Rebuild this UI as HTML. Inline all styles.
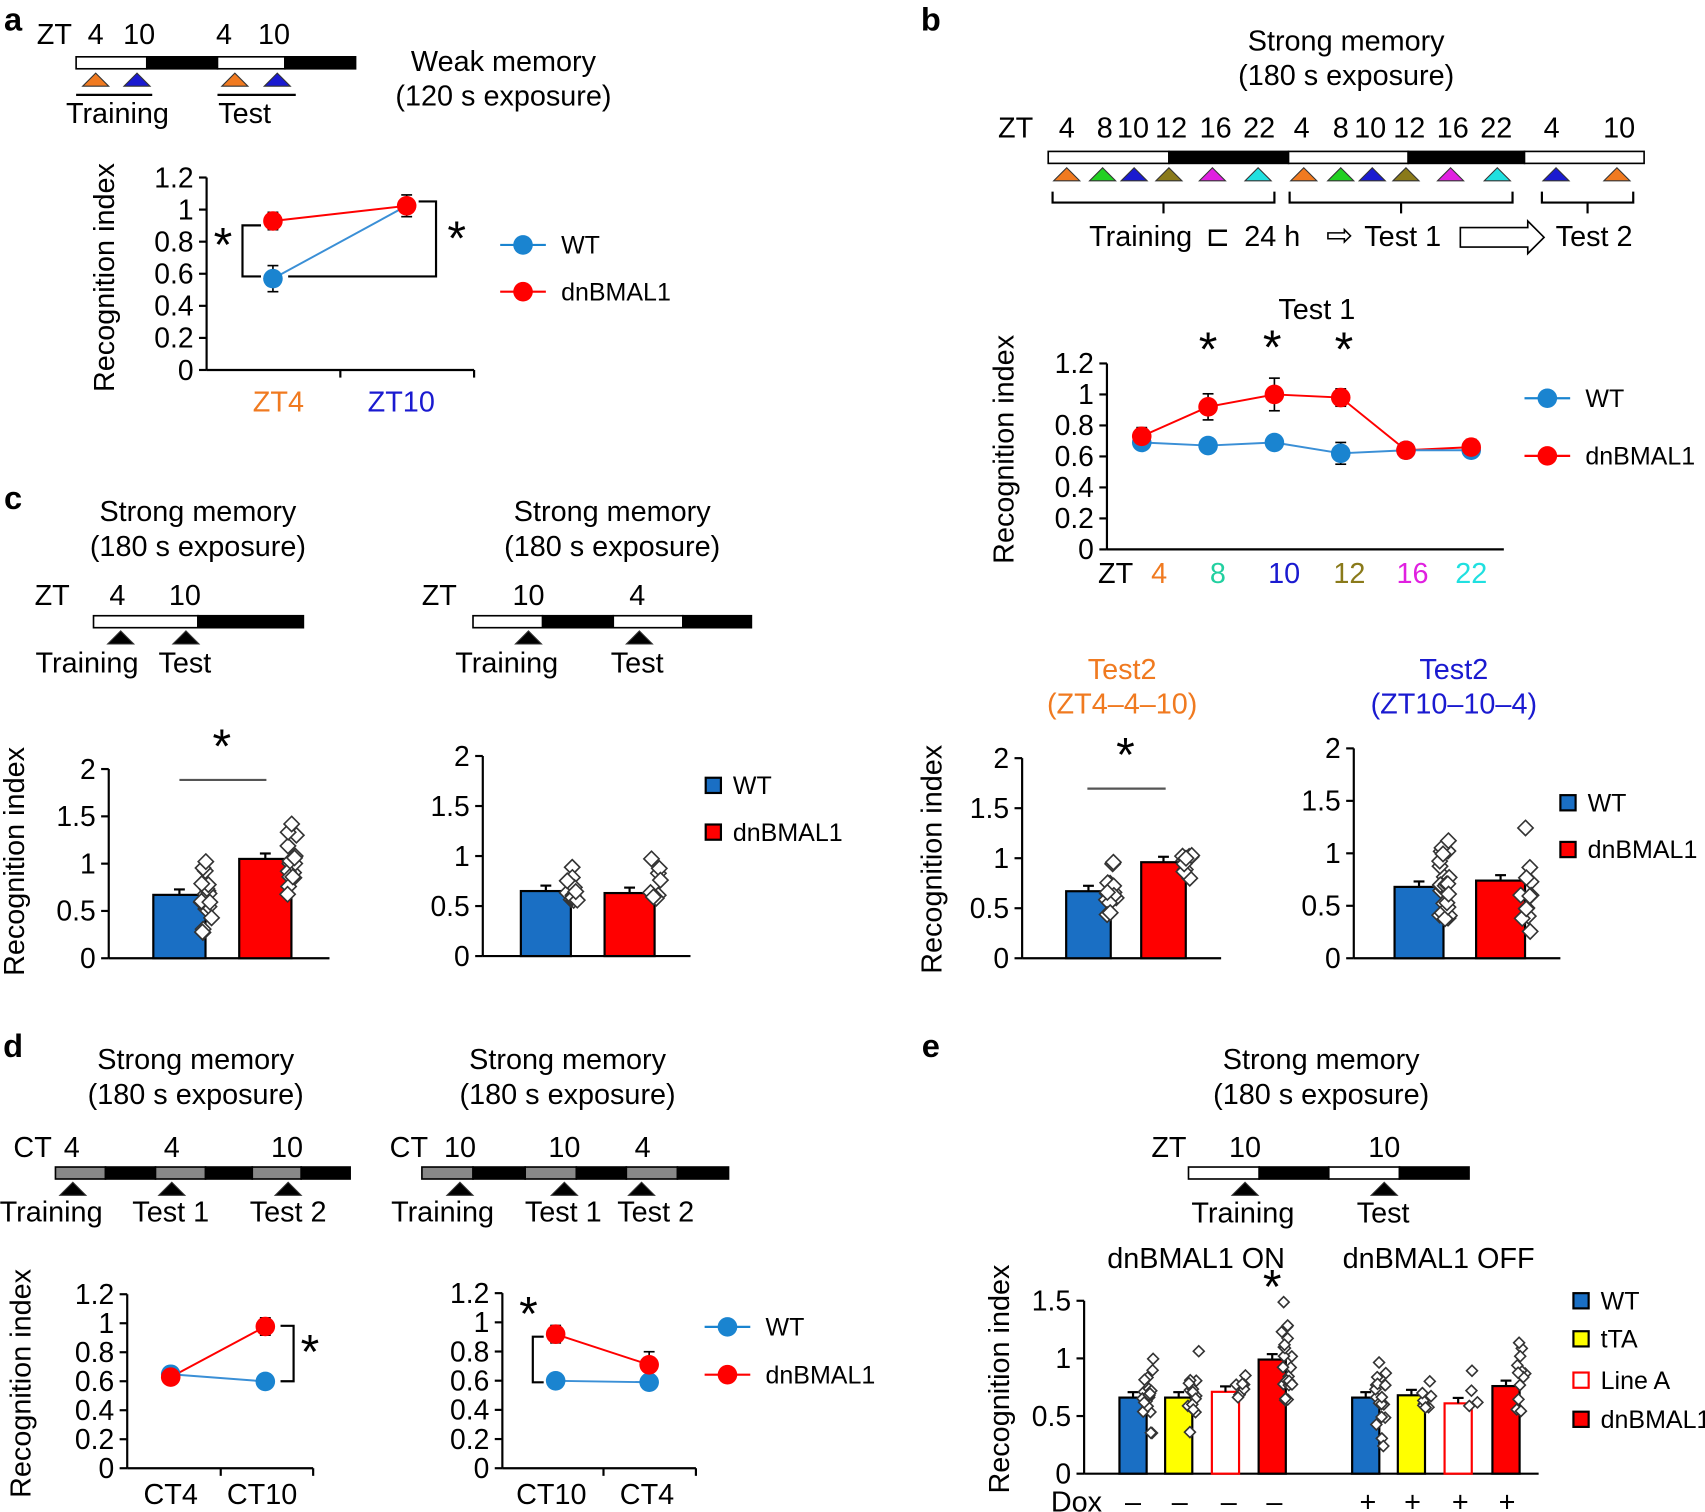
<!DOCTYPE html>
<html><head><meta charset="utf-8"><style>
html,body{margin:0;padding:0;background:#fff}
svg{display:block}
text{font-family:"Liberation Sans",Arial,sans-serif;fill:#000}
</style></head><body>
<svg id="s" width="1705" height="1512" viewBox="0 0 1568 1390" xmlns="http://www.w3.org/2000/svg"></svg>
<script>
const S=document.getElementById('s');let h='';
const B='#1a6fc4',R='#ff0000';
function T(x,y,s,o={}){h+=`<text x="${x}" y="${y}" font-size="${o.fs||26.5}" text-anchor="${o.a||'middle'}" ${o.c?`style="fill:${o.c}"`:''} ${o.b?'font-weight="bold"':''} ${o.rot?`transform="rotate(-90 ${x} ${y})"`:''}>${s}</text>`;}
function L(x1,y1,x2,y2,c='#000',w=2){h+=`<line x1="${x1}" y1="${y1}" x2="${x2}" y2="${y2}" stroke="${c}" stroke-width="${w}"/>`;}
function Rc(x,y,w,hh,f,st='#000',sw=2){h+=`<rect x="${x}" y="${y}" width="${w}" height="${hh}" fill="${f}" stroke="${st}" stroke-width="${sw}"/>`;}
function Tri(x,y,c,s=12){h+=`<polygon points="${x-s},${y+s} ${x+s},${y+s} ${x},${y}" fill="${c}" stroke="#333" stroke-width="1"/>`;}
function C(x,y,c,r=9){h+=`<circle cx="${x}" cy="${y}" r="${r}" fill="${c}"/>`;}
function bar(x0,y,segs){let x=x0;segs.forEach(([w,c])=>{Rc(x,y,w,11,c,'#000',1.5);x+=w;});}
function star(x,y){T(x,y+18,'*',{fs:44});}
function dia(x,y,s){h+=`<polygon points="${x},${y-s} ${x+s},${y} ${x},${y+s} ${x-s},${y}" fill="#fff" stroke="#333" stroke-width="1.5"/>`;}
let seed=3;function rnd(){seed=(seed*9301+49297)%233280;return seed/233280;}
function bars(ax,y0,sc,list,w,ds=7){list.forEach(([cx,v,fill,n,spread,st])=>{let yt=y0-v*sc;Rc(cx-w/2,yt,w,y0-yt,fill,st||'#000',2);L(cx,yt,cx,yt-5);L(cx-5,yt-5,cx+5,yt-5);for(let i=0;i<n;i++){let r=(rnd()+rnd()+rnd())/3-0.5;dia(cx+w/2-4+rnd()*10,yt+r*4*spread*sc,ds);}});}
function lineChart(pts,c){h+=`<polyline points="${pts.map(p=>p.join(',')).join(' ')}" fill="none" stroke="${c}" stroke-width="1.8"/>`;}
function err(x,y,e){L(x,y-e,x,y+e,'#000',1.5);L(x-5,y-e,x+5,y-e,'#000',1.5);L(x-5,y+e,x+5,y+e,'#000',1.5);}
function leg(x,y,c,t){L(x,y,x+42,y,c,2);C(x+21,y,c,9);T(x+56,y+8,t,{a:'start',fs:23});}
function sq(x,y,c,t,st){Rc(x-7,y-7,14,14,c,st||'#000',2);T(x+18,y+8,t,{a:'start',fs:23});}
function yax2(x,yb,yt,vals,fs=26){L(x,yb,x,yt);vals.forEach((v,i)=>{let y=yb+(yt-yb)*i/(vals.length-1);L(x-7,y,x,y);T(x-12,y+9,v,{a:'end',fs});});}

T(12,28,'a',{fs:30,b:1});T(856,28,'b',{fs:30,b:1});T(12,468,'c',{fs:30,b:1});T(12,972,'d',{fs:30,b:1});T(856,972,'e',{fs:30,b:1});

// ---- a
T(50,40,'ZT');T(88,40,'4');T(128,40,'10');T(206,40,'4');T(252,40,'10');
bar(70,52,[[65,'#fff'],[65,'#000'],[62,'#fff'],[65,'#000']]);
Tri(88,67,'#f07a20');Tri(126,67,'#1a1ad0');Tri(216,67,'#f07a20');Tri(255,67,'#1a1ad0');
L(70,87,140,87);L(200,87,272,87);T(108,113,'Training');T(225,113,'Test');
T(463,65,'Weak memory');T(463,97,'(120 s exposure)');
yax2(190,340,163,['0','0.2','0.4','0.6','0.8','1','1.2']);
L(190,340,436,340);L(313,340,313,347);L(436,340,436,347);
T(256,378,'ZT4',{c:'#f07a20'});T(369,378,'ZT10',{c:'#1a1ad0'});
T(105,255,'Recognition index',{rot:1});
err(251,256,12);err(374,189,10);err(251,203,8);
lineChart([[251,203],[374,189]],R);lineChart([[251,256],[374,189]],'#3a8fd6');
C(251,256,'#1a84d0');C(251,203,R);C(374,189,R);
h+=`<polyline points="240,207 223,207 223,254 240,254" fill="none" stroke="#000" stroke-width="2"/>`;star(205,222);
h+=`<polyline points="385,185 401,185 401,254 265,254" fill="none" stroke="#000" stroke-width="2"/>`;star(420,216);
leg(460,225,'#1a84d0','WT');leg(460,268,R,'dnBMAL1');

// ---- b
T(1238,46,'Strong memory');T(1238,78,'(180 s exposure)');
[['ZT',934],['4',981],['8',1016],['10',1042],['12',1077],['16',1118],['22',1158],['4',1197],['8',1233],['10',1260],['12',1296],['16',1336],['22',1376],['4',1427],['10',1489]].forEach(([t,x])=>T(x,126,t));
bar(964,139,[[111,'#fff'],[110,'#000'],[110,'#fff'],[107,'#000'],[110,'#fff']]);
const tc=['#f07a20','#22d022','#1a1ad0','#8a7a1a','#e020e0','#20e0e0'];
[981,1014,1043,1075,1115,1157].forEach((x,i)=>Tri(x,154,tc[i]));[1199,1233,1262,1293,1334,1377].forEach((x,i)=>Tri(x,154,tc[i]));
Tri(1431,154,'#1a1ad0');Tri(1487,154,'#f07a20');
[[968,1172],[1186,1391],[1418,1502]].forEach(([a,b])=>{h+=`<polyline points="${a},176 ${a},186 ${b},186 ${b},176" fill="none" stroke="#000" stroke-width="2"/>`;L((a+b)/2,186,(a+b)/2,196);});
T(1049,226,'Training');T(1120,226,'⊏');T(1170,226,'24 h');T(1232,226,'⇨',{fs:30});T(1290,226,'Test 1');
h+=`<polygon points="1343,209 1405,209 1405,203 1420,218 1405,233 1405,227 1343,227" fill="#fff" stroke="#000" stroke-width="1.5"/>`;T(1466,226,'Test 2');
T(1211,293,'Test 1');
yax2(1018,505,334,['0','0.2','0.4','0.6','0.8','1','1.2']);L(1018,505,1383,505);
T(932,413,'Recognition index',{rot:1});
{const xs=[1050,1111,1172,1233,1293,1353],w=[.69,.67,.69,.62,.64,.64],d=[.73,.92,1.0,.98,.64,.66],Y=v=>505-v*142.5;
 err(xs[0],Y(.73),8);err(xs[1],Y(.92),12);err(xs[2],Y(1.0),15);err(xs[3],Y(.98),8);err(xs[3],Y(.62),10);err(xs[4],Y(.64),7);err(xs[5],Y(.66),7);
 lineChart(xs.map((x,i)=>[x,Y(d[i])]),R);lineChart(xs.map((x,i)=>[x,Y(w[i])]),'#3a8fd6');
 xs.forEach((x,i)=>{C(x,Y(w[i]),'#1a84d0');C(x,Y(d[i]),R);});}
star(1111,318);star(1170,316);star(1236,318);
T(1026,536,'ZT');[['4',1066,'#f07a20'],['8',1120,'#22d0a0'],['10',1181,'#1a1ad0'],['12',1241,'#8a7a1a'],['16',1299,'#e020e0'],['22',1353,'#20e0e0']].forEach(([t,x,c])=>T(x,536,t,{c}));
leg(1402,366,'#1a84d0','WT');leg(1402,419,R,'dnBMAL1');

// ---- c left
T(182,479,'Strong memory');T(182,511,'(180 s exposure)');
T(48,556,'ZT');T(108,556,'4');T(170,556,'10');
bar(86,566,[[96,'#fff'],[97,'#000']]);Tri(111,580,'#000');Tri(171,580,'#000');
T(80,618,'Training');T(170,618,'Test');
yax2(100,881,707,['0','0.5','1','1.5','2']);L(100,881,303,881);
T(22,792,'Recognition index',{rot:1});
bars(0,881,87,[[165,.67,B,18,.3],[244,1.05,R,16,.25]],48);
L(165,717,245,717,'#555',2);star(204,683);

// ---- c middle
T(563,479,'Strong memory');T(563,511,'(180 s exposure)');
T(404,556,'ZT');T(486,556,'10');T(586,556,'4');
bar(435,566,[[64,'#fff'],[65,'#000'],[64,'#fff'],[63,'#000']]);Tri(486,580,'#000');Tri(588,580,'#000');
T(466,618,'Training');T(586,618,'Test');
yax2(444,879,695,['0','0.5','1','1.5','2']);L(444,879,635,879);
bars(0,879,92,[[502,.65,B,14,.13],[579,.63,R,8,.22]],46);
sq(656,722,B,'WT');sq(656,765,R,'dnBMAL1');

// ---- b lower
T(1032,624,'Test2',{c:'#f07a20'});T(1032,656,'(ZT4–4–10)',{c:'#f07a20'});
yax2(940,881,697,['0','0.5','1','1.5','2']);L(940,881,1123,881);
T(866,790,'Recognition index',{rot:1});
bars(0,881,92,[[1001,.67,B,14,.35],[1070,.96,R,10,.12]],41);
L(1000,725,1072,725,'#555',2);star(1035,691);
T(1337,624,'Test2',{c:'#1a1ad0'});T(1337,656,'(ZT10–10–4)',{c:'#1a1ad0'});
yax2(1245,881,688,['0','0.5','1','1.5','2']);L(1245,881,1435,881);
bars(0,881,96.5,[[1305,.68,B,24,.3],[1380,.74,R,12,.3]],45);
sq(1442,738,B,'WT');sq(1442,781,R,'dnBMAL1');

// ---- d left
T(180,983,'Strong memory');T(180,1015,'(180 s exposure)');
T(30,1064,'CT');T(66,1064,'4');T(158,1064,'4');T(264,1064,'10');
bar(51,1073,[[46,'#888'],[46,'#000'],[46,'#888'],[43,'#000'],[45,'#888'],[45,'#000']]);
Tri(67,1087,'#000');Tri(158,1087,'#000');Tri(265,1087,'#000');
T(47,1123,'Training');T(157,1123,'Test 1');T(265,1123,'Test 2');
yax2(117,1350,1190,['0','0.2','0.4','0.6','0.8','1','1.2']);L(117,1350,288,1350);L(203,1350,203,1357);L(288,1350,288,1357);
T(28,1272,'Recognition index',{rot:1});
T(157,1383,'CT4');T(241,1383,'CT10');
{const Y=v=>1350-v*133;err(244,Y(.98),8);lineChart([[157,Y(.63)],[244,Y(.98)]],R);lineChart([[157,Y(.65)],[244,Y(.6)]],'#3a8fd6');
C(157,Y(.65),'#1a84d0');C(244,Y(.6),'#1a84d0');C(157,Y(.63),R);C(244,Y(.98),R);}
h+=`<polyline points="258,1219 270,1219 270,1270 258,1270" fill="none" stroke="#000" stroke-width="2"/>`;star(285,1240);

// ---- d right
T(522,983,'Strong memory');T(522,1015,'(180 s exposure)');
T(376,1064,'CT');T(423,1064,'10');T(519,1064,'10');T(591,1064,'4');
bar(388,1073,[[47,'#888'],[48,'#000'],[47,'#888'],[46,'#000'],[47,'#888'],[47,'#000']]);
Tri(423,1087,'#000');Tri(519,1087,'#000');Tri(590,1087,'#000');
T(407,1123,'Training');T(518,1123,'Test 1');T(603,1123,'Test 2');
yax2(462,1350,1189,['0','0.2','0.4','0.6','0.8','1','1.2']);L(462,1350,640,1350);L(555,1350,555,1357);L(640,1350,640,1357);
T(507,1383,'CT10');T(595,1383,'CT4');
{const Y=v=>1350-v*134;err(511,Y(.92),8);err(597,Y(.71),12);lineChart([[511,Y(.92)],[597,Y(.71)]],R);lineChart([[511,Y(.6)],[597,Y(.59)]],'#3a8fd6');
C(511,Y(.6),'#1a84d0');C(597,Y(.59),'#1a84d0');C(511,Y(.92),R);C(597,Y(.71),R);}
h+=`<polyline points="500,1229 490,1229 490,1271 500,1271" fill="none" stroke="#000" stroke-width="2"/>`;star(486,1205);
leg(648,1220,'#1a84d0','WT');leg(648,1264,R,'dnBMAL1');

// ---- e
T(1215,983,'Strong memory');T(1215,1015,'(180 s exposure)');
T(1075,1064,'ZT');T(1145,1064,'10');T(1273,1064,'10');
bar(1093,1073,[[65,'#fff'],[64,'#000'],[65,'#fff'],[64,'#000']]);Tri(1145,1087,'#000');Tri(1273,1087,'#000');
T(1143,1124,'Training');T(1272,1124,'Test');T(1100,1166,'dnBMAL1 ON');T(1323,1166,'dnBMAL1 OFF');
yax2(997,1355,1196,['0','0.5','1','1.5']);L(997,1355,1415,1355);
T(928,1268,'Recognition index',{rot:1});
bars(0,1355,106,[[1042,.66,B,20,.3],[1084,.66,'#ffff00',14,.28],[1127,.71,'#fff',8,.08,R],[1170,.99,R,22,.3],[1256,.66,B,18,.28],[1298,.68,'#ffff00',8,.1],[1341,.61,'#fff',4,.2,R],[1385,.76,R,12,.22]],25,5);
star(1170,1180);
T(990,1390,'Dox');[1042,1085,1130,1172].forEach(x=>T(x,1390,'–'));[1258,1299,1343,1386].forEach(x=>T(x,1390,'+'));
sq(1454,1196,B,'WT');sq(1454,1231,'#ffff00','tTA');sq(1454,1269,'#fff','Line A',R);sq(1454,1305,R,'dnBMAL1');
S.innerHTML=h;
</script>
</body></html>
